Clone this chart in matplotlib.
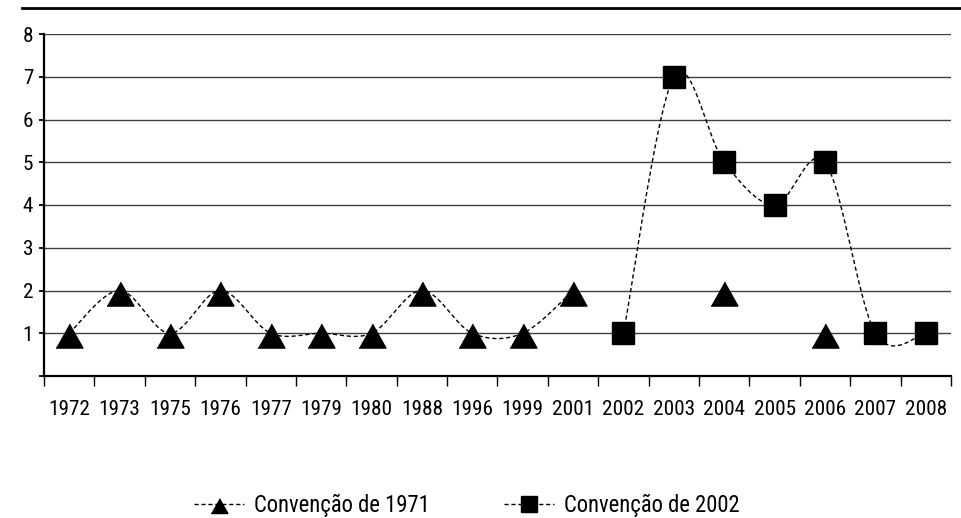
import numpy as np
import matplotlib
matplotlib.use('Agg')
import matplotlib.pyplot as plt
from matplotlib.lines import Line2D
from matplotlib import font_manager as fm

# ---- data ----
years = ['1972', '1973', '1975', '1976', '1977', '1979', '1980', '1988', '1996',
         '1999', '2001', '2002', '2003', '2004', '2005', '2006', '2007', '2008']
nan = np.nan
conv1971 = [1, 2, 1, 2, 1, 1, 1, 2, 1, 1, 2, nan, nan, 2, nan, 1, nan, nan]
conv2002 = [nan, nan, nan, nan, nan, nan, nan, nan, nan, nan, nan, 1, 7, 5, 4, 5, 1, 1]
y_ticks = [0, 1, 2, 3, 4, 5, 6, 7, 8]
y_tick_labels = ['', '1', '2', '3', '4', '5', '6', '7', '8']
series_labels = ['Convenção de 1971', 'Convenção de 2002']

# ---- font choice: a condensed sans if available, else Liberation Sans ----
names = {f.name for f in fm.fontManager.ttflist}
chosen, stretch, FS, LFS = None, 'normal', 12.8, 13.6
for nm in ('Liberation Sans Narrow', 'Roboto Condensed', 'Open Sans Condensed',
           'Noto Sans Condensed', 'Arial Narrow', 'DejaVu Sans Condensed'):
    if nm in names:
        chosen, FS, LFS = nm, 15.3, 16.3
        break
if chosen is None:
    for f in fm.fontManager.ttflist:
        st = str(f.stretch)
        if f.name in ('Noto Sans', 'DejaVu Sans', 'Roboto', 'Open Sans', 'Lato') and \
                st in ('condensed', 'semi-condensed') and str(f.weight) in ('400', 'normal', 'regular'):
            chosen, stretch, FS, LFS = f.name, st, 14.8, 15.8
            break
if chosen is None:
    chosen = 'Liberation Sans' if 'Liberation Sans' in names else 'DejaVu Sans'

plt.rcParams['font.family'] = [chosen, 'DejaVu Sans']
plt.rcParams['font.stretch'] = stretch

W, H = 962, 518
fig = plt.figure(figsize=(W / 100, H / 100), dpi=100)
ax = fig.add_axes([44 / W, 1 - 376 / H, (951 - 44) / W, (376 - 34) / H])

x = np.arange(len(years))


def smooth_runs(xs, ys, n=40):
    """Split on NaN and return Catmull-Rom-smoothed runs (Bezier form)."""
    ys = np.asarray(ys, dtype=float)
    runs, cur = [], []
    for xi, yi in zip(xs, ys):
        if np.isnan(yi):
            if cur:
                runs.append(cur)
            cur = []
        else:
            cur.append((xi, yi))
    if cur:
        runs.append(cur)
    out = []
    for r in runs:
        if len(r) < 2:
            continue
        P = np.array(r, dtype=float)
        m = len(P)
        px, py = [], []
        for i in range(m - 1):
            p0 = P[i - 1] if i > 0 else P[i]
            p1 = P[i]
            p2 = P[i + 1]
            p3 = P[i + 2] if i + 2 < m else P[i + 1]
            b1 = p1 + (p2 - p0) / 6.0
            b2 = p2 - (p3 - p1) / 6.0
            t = np.linspace(0, 1, n)[:, None]
            seg = ((1 - t) ** 3) * p1 + 3 * ((1 - t) ** 2) * t * b1 + \
                3 * (1 - t) * t ** 2 * b2 + t ** 3 * p2
            px.extend(seg[:, 0])
            py.extend(seg[:, 1])
        out.append((np.array(px), np.array(py)))
    return out


dash = (0, (3.0, 2.0))
for ys in (conv1971, conv2002):
    for sx, sy in smooth_runs(x, ys):
        ax.plot(sx, sy, color='black', lw=1.0, linestyle=dash, zorder=3)

tri = [(-0.92, -1.0), (0.92, -1.0), (0, 0.64)]
ax.plot(x, conv1971, linestyle='none', marker=tri, markersize=21,
        color='black', zorder=4, clip_on=False)
ax.plot(x, conv2002, linestyle='none', marker='s', markersize=15.8,
        color='black', zorder=4, clip_on=False)

ax.set_xlim(-0.5, len(years) - 0.5)
ax.set_ylim(0, 8)

ax.set_yticks(y_ticks)
ax.set_yticklabels(y_tick_labels)
ax.set_xticks(x)
ax.set_xticklabels(years)
ax.set_xticks(np.arange(-0.5, len(years)), minor=True)

ax.tick_params(axis='y', which='major', direction='out', length=3.8, width=1.3,
               pad=4, labelsize=FS, colors='black')
ax.tick_params(axis='x', which='major', length=0, pad=17, labelsize=FS)
ax.tick_params(axis='x', which='minor', direction='out', length=7, width=1.0)

ax.yaxis.grid(True, color='#404040', lw=1.0, zorder=1)
ax.set_axisbelow(True)

for s in ('top', 'right'):
    ax.spines[s].set_visible(False)
for s in ('left', 'bottom'):
    ax.spines[s].set_linewidth(1.6)
    ax.spines[s].set_color('black')

# top rule
fig.add_artist(Line2D([22 / W, 1.0], [1 - 7.5 / H, 1 - 7.5 / H],
                      transform=fig.transFigure, color='black', lw=2.0))

handles = [
    Line2D([], [], color='black', lw=1.0, linestyle=dash, marker=tri, markersize=13),
    Line2D([], [], color='black', lw=1.0, linestyle=dash, marker='s', markersize=12.0),
]
fig.legend(handles, series_labels, loc='center', bbox_to_anchor=(467 / W, 1 - 505 / H),
           ncol=2, frameon=False, fontsize=LFS, handlelength=2.2, handletextpad=0.45,
           columnspacing=3.3, borderpad=0, borderaxespad=0)

fig.savefig('out.png', dpi=100)
